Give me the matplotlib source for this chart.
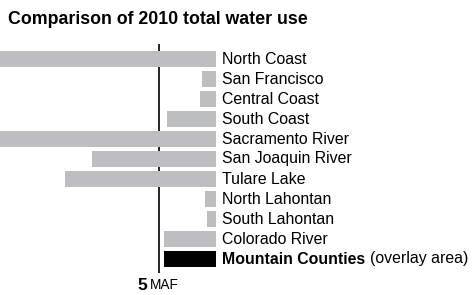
"""Comparison of 2010 total water use by hydrologic region (MAF)."""

import matplotlib

matplotlib.use("Agg")
import matplotlib.pyplot as plt
from matplotlib import font_manager

regions = [
    "North Coast", "San Francisco", "Central Coast", "South Coast",
    "Sacramento River", "San Joaquin River", "Tulare Lake",
    "North Lahontan", "South Lahontan", "Colorado River",
]
water_use_maf = [21.0, 1.24, 1.41, 4.35, 28.0, 10.9, 13.3, 0.97, 0.80, 4.6]
overlay_name = "Mountain Counties"
overlay_maf = 4.6
ref_maf = 5

GRAY = "#bdbec0"
names = {f.name for f in font_manager.fontManager.ttflist}
narrow = "Liberation Sans Narrow" in names
title_font = "Liberation Sans Narrow" if narrow else "Liberation Sans"

plt.rcParams["font.family"] = ["Liberation Sans", "DejaVu Sans"]
FS = 11.4

fig = plt.figure(figsize=(4.75, 2.95), dpi=100)
# axes: 0..216 px wide, rows from 49 to 269 px from top
ax = fig.add_axes([0, (295 - 269) / 295, 216 / 475, 220 / 295])

n = len(regions)
ax.vlines(ref_maf, -0.75, n + 0.7, color="black", lw=1.2, zorder=1, clip_on=False)
ax.barh(range(n), water_use_maf, height=0.8, color=GRAY, zorder=2)
ax.barh(n, overlay_maf, height=0.8, color="black", zorder=2)

for i, name in enumerate(regions):
    ax.annotate(name, (0, i), xytext=(4.5, 0), textcoords="offset points",
                ha="left", va="center", fontsize=FS, annotation_clip=False)
mc = ax.annotate(overlay_name, (0, n), xytext=(4.5, 0), textcoords="offset points",
                 ha="left", va="center", fontsize=FS, fontweight="bold",
                 annotation_clip=False)
ax.annotate("(overlay area)", xy=(1, 0.5), xycoords=mc, xytext=(3.5, 0),
            textcoords="offset points", ha="left", va="center", fontsize=FS)

ax.set_xlim(216 / 56.7 * ref_maf, 0)
ax.set_ylim(n + 0.5, -0.5)
ax.axis("off")

fig.text(147.5 / 475, 1 - 285 / 295, str(ref_maf), ha="right", va="center",
         fontsize=12.5, fontweight="bold")
fig.text(149.5 / 475, 1 - 285 / 295, "MAF", ha="left", va="center", fontsize=9.8)

fig.text(8 / 475, 1 - 19 / 295, "Comparison of 2010 total water use",
         ha="left", va="center", fontsize=14.5 if narrow else 12.8,
         fontweight="bold", family=[title_font, "DejaVu Sans"])

fig.savefig("out.png", dpi=100)
